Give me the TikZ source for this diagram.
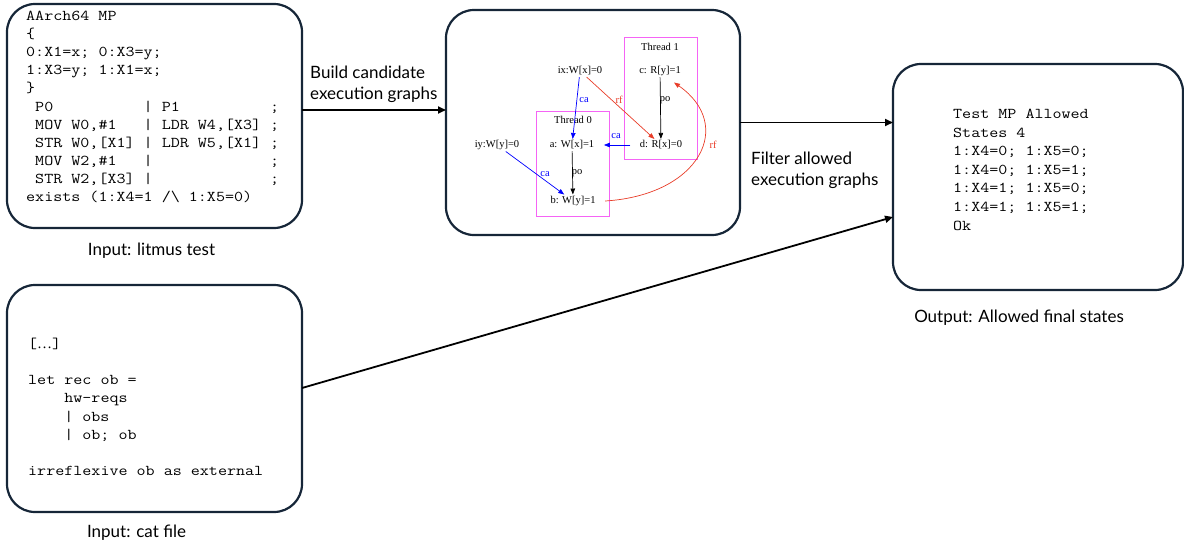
\documentclass[tikz,border=0pt]{standalone}
\usepackage{fontspec}
\setmainfont{Lato}
\newfontfamily\codefont[FakeStretch=1.17]{Latin Modern Mono}
\newfontfamily\gvfont{Liberation Serif}
\usetikzlibrary{arrows.meta}
\definecolor{navy}{RGB}{22,38,56}
\definecolor{gvred}{RGB}{232,60,40}
\definecolor{gvmag}{RGB}{245,100,245}
\begin{document}
\begin{tikzpicture}[x=1pt,y=-1pt,
  panel/.style={draw=navy, line width=2.2pt, rounded corners=28pt, inner sep=0pt, outer sep=0pt},
  mainarrow/.style={line width=1.8pt, -{Triangle[length=8pt,width=7pt]}},
  codeblock/.style={anchor=north west, inner sep=0pt, align=left, font=\codefont\fontsize{15}{18.1}\selectfont},
  steplabel/.style={anchor=north west, inner sep=0pt, align=left, font=\fontsize{17}{21}\selectfont},
  caption/.style={inner sep=0pt, font=\fontsize{17}{20}\selectfont},
  tbox/.style={draw=gvmag, line width=1pt, inner sep=0pt, outer sep=0pt},
  gvnode/.style={inner sep=1.5pt, font=\gvfont\fontsize{10.5}{12}\selectfont},
  gvlabel/.style={inner sep=0pt, font=\gvfont\fontsize{10.5}{12}\selectfont},
  gvedge/.style={line width=0.7pt, -{Triangle[length=6pt,width=4.5pt]}}
]
\useasboundingbox (0,0) rectangle (1184,544);

% panels
\node[panel, minimum width=295pt, minimum height=224pt] (litmus) at (154.5,116) {};
\node[panel, minimum width=295pt, minimum height=227pt] (cat) at (154.5,398.5) {};
\node[panel, minimum width=294pt, minimum height=225pt] (graph) at (593,122.5) {};
\node[panel, minimum width=290pt, minimum height=226pt] (output) at (1038,177) {};

% litmus code
\node[codeblock] (litmuscode) at (26,11) {%
AArch64~MP\\
\{\\
0:X1=x;~0:X3=y;\\
1:X3=y;~1:X1=x;\\
\}\\
~P0~~~~~~~~~~|~P1~~~~~~~~~~;\\
~MOV~W0,\#1~~~|~LDR~W4,[X3]~;\\
~STR~W0,[X1]~|~LDR~W5,[X1]~;\\
~MOV~W2,\#1~~~|~~~~~~~~~~~~~;\\
~STR~W2,[X3]~|~~~~~~~~~~~~~;\\
exists~(1:X4=1~/\textbackslash~1:X5=0)};

% cat code
\node[codeblock] (catcode) at (28,338) {%
[{\gvfont…}]\\
\mbox{}\\
let~rec~ob~=\\
~~~~hw-reqs\\
~~~~|~obs\\
~~~~|~ob;~ob\\
\mbox{}\\
irreflexive~ob~as~external};

% output code
\node[codeblock, font=\codefont\fontsize{15}{18.6}\selectfont] (outcode) at (953,109) {%
Test~MP~Allowed\\
States~4\\
1:X4=0;~1:X5=0;\\
1:X4=0;~1:X5=1;\\
1:X4=1;~1:X5=0;\\
1:X4=1;~1:X5=1;\\
Ok};

% captions
\node[caption] (cap1) at (151.5,251) {Input: litmus test};
\node[caption] (cap2) at (136.5,533) {Input: cat file};
\node[caption] (cap3) at (1019,318) {Output: Allowed final states};

% step labels
\node[steplabel] (build) at (310,66) {Build candidate\\execution graphs};
\node[steplabel] (filter) at (751,152) {Filter allowed\\execution graphs};

% main arrows
\coordinate (a1) at ([yshift=6pt]litmus.east);
\draw[mainarrow] (a1) -- (a1 -| graph.west);
\draw[mainarrow] (graph.east) -- (graph.east -| output.west);
\draw[mainarrow] ([yshift=10.5pt]cat.east) -- ([yshift=-40pt]output.west);

% execution graph
\node[tbox, minimum width=73pt, minimum height=122pt] (t1) at (660.5,98) {};
\node[tbox, minimum width=73pt, minimum height=105pt] (t0) at (572.5,163.5) {};
\node[gvlabel] (th1) at (660,47) {Thread 1};
\node[gvlabel] (th0) at (573,120) {Thread 0};

\node[gvnode] (ix) at (580,71) {ix:W[x]=0};
\node[gvnode] (iy) at (497,145) {iy:W[y]=0};
\node[gvnode] (a) at (572,145) {a: W[x]=1};
\node[gvnode] (b) at (573,201) {b: W[y]=1};
\node[gvnode] (c) at (660,71) {c: R[y]=1};
\node[gvnode] (d) at (661,145) {d: R[x]=0};

\draw[gvedge, blue] (ix) -- (a);
\draw[gvedge, gvred] (ix) -- (d);
\draw[gvedge, blue] ([xshift=-8pt]d.west) -- ([xshift=8pt]a.east);
\draw[gvedge, blue] (iy) -- (b);
\draw[gvedge, black] (c) -- (d);
\draw[gvedge, black] (a) -- (b);
\draw[gvedge, gvred] ([xshift=8pt]b.east) .. controls (700,195) and (735,125) .. ([xshift=14pt,yshift=-5pt]c.south);

\node[gvlabel, text=blue] (l1) at (584,100) {ca};
\node[gvlabel, text=gvred] (l2) at (619,100) {rf};
\node[gvlabel] (l3) at (665,100) {po};
\node[gvlabel, text=blue] (l4) at (616,136) {ca};
\node[gvlabel] (l5) at (577,173) {po};
\node[gvlabel, text=blue] (l6) at (545,174) {ca};
\node[gvlabel, text=gvred] (l7) at (713,145) {rf};
\end{tikzpicture}
\end{document}
